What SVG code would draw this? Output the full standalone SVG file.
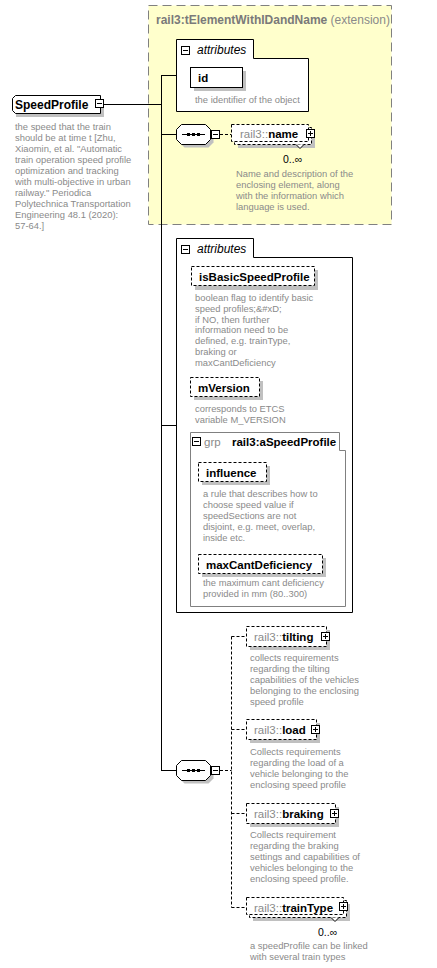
<svg xmlns="http://www.w3.org/2000/svg" xmlns:xlink="http://www.w3.org/1999/xlink" width="437" height="968" viewBox="0 0 437 968">
<style>
.desc{font-family:"Liberation Sans",Arial,sans-serif;font-size:9.4px;fill:#8a8a8a}
.nm{font-family:"Liberation Sans",Arial,sans-serif;font-size:11.5px;font-weight:bold;fill:#000}
.pre{font-weight:normal;fill:#8a8a8a}
.occ{font-family:"Liberation Sans",Arial,sans-serif;font-size:10.5px;fill:#000}
.box{fill:#fff;stroke:#000;stroke-width:1}
.dbox{fill:#fff;stroke:#000;stroke-width:1;stroke-dasharray:3 2}
.sh{fill:#c0c0c0}
.conn{stroke:#000;stroke-width:1;fill:none}
.dconn{stroke:#000;stroke-width:1;fill:none;stroke-dasharray:3 2}
.ital{font-family:"Liberation Sans",Arial,sans-serif;font-size:12px;font-style:italic;fill:#000}
</style>
<defs>
<g id="minus"><rect x="0.5" y="0.5" width="8" height="8" fill="#fff" stroke="#000"/><line x1="2" y1="4.5" x2="7" y2="4.5" stroke="#000"/></g>
<g id="plus"><rect x="0.5" y="0.5" width="8" height="8" fill="#fff" stroke="#000"/><line x1="2" y1="4.5" x2="7" y2="4.5" stroke="#000"/><line x1="4.5" y1="2" x2="4.5" y2="7" stroke="#000"/></g>
<g id="seq"><path d="M8.5,3.5 H32.5 L37.5,8.5 V18.5 L32.5,23.5 H8.5 L3.5,18.5 V8.5 Z" class="sh"/><path d="M5.5,0.5 H29.5 L34.5,5.5 V15.5 L29.5,20.5 H5.5 L0.5,15.5 V5.5 Z" class="box"/><line x1="6" y1="10.5" x2="29" y2="10.5" stroke="#000"/><rect x="11" y="9" width="3" height="3" fill="#000"/><rect x="16" y="9" width="3" height="3" fill="#000"/><rect x="21" y="9" width="3" height="3" fill="#000"/></g>
</defs>
<rect width="437" height="968" fill="#fff"/>

<g id="ext-tElementWithIDandName">
<rect x="148.5" y="5.5" width="243" height="219" fill="#ffffcc" stroke="#808080" stroke-dasharray="9 5"/>
<text x="156" y="24" font-family="Liberation Sans, Arial, sans-serif" font-size="12px"><tspan font-weight="bold" fill="#7a7a7a">rail3:tElementWithIDandName</tspan><tspan fill="#8a8a8a"> (extension)</tspan></text>
</g>

<g id="connectors">
<line x1="104" y1="104.5" x2="161.5" y2="104.5" class="conn"/>
<line x1="161.5" y1="75" x2="161.5" y2="770.5" class="conn"/>
<line x1="161" y1="75.5" x2="176" y2="75.5" class="conn"/>
<line x1="161" y1="134.5" x2="176" y2="134.5" class="conn"/>
<line x1="161" y1="425.5" x2="176" y2="425.5" class="conn"/>
<line x1="161" y1="770.5" x2="176" y2="770.5" class="conn"/>
<line x1="220" y1="134.5" x2="231" y2="134.5" class="dconn"/>
<line x1="220" y1="770.5" x2="231.5" y2="770.5" class="dconn"/>
<line x1="231.5" y1="636.5" x2="231.5" y2="907.5" class="dconn"/>
<line x1="231.5" y1="636.5" x2="246" y2="636.5" class="dconn"/>
<line x1="231.5" y1="729.5" x2="246" y2="729.5" class="dconn"/>
<line x1="231.5" y1="813.5" x2="246" y2="813.5" class="dconn"/>
<line x1="231.5" y1="907.5" x2="246" y2="907.5" class="dconn"/>
</g>

<g id="SpeedProfile">
<rect x="16" y="99" width="88" height="18" class="sh"/>
<path d="M15.5,95.5 H100.5 V113.5 H15.5 L12.5,110.5 V98.5 Z" class="box"/>
<text x="15" y="109" font-family="Liberation Sans, Arial, sans-serif" font-size="12px" font-weight="bold">SpeedProfile</text>
<use xlink:href="#minus" x="95" y="99"/>
<text class="desc"><tspan x="15" y="130">the speed that the train</tspan><tspan x="15" y="141">should be at time t [Zhu,</tspan><tspan x="15" y="152">Xiaomin, et al. "Automatic</tspan><tspan x="15" y="163">train operation speed profile</tspan><tspan x="15" y="174">optimization and tracking</tspan><tspan x="15" y="185">with multi-objective in urban</tspan><tspan x="15" y="196">railway." Periodica</tspan><tspan x="15" y="207">Polytechnica Transportation</tspan><tspan x="15" y="218">Engineering 48.1 (2020):</tspan><tspan x="15" y="229">57-64.]</tspan></text>
</g>

<g id="attributes1">
<path d="M176.5,111.5 V39.5 H253.5 V58.5 H308.5 V111.5 Z" class="box"/>
<use xlink:href="#minus" x="181" y="46"/>
<text x="197" y="54" class="ital">attributes</text>
</g>

<g id="id">
<rect x="194" y="71" width="52" height="20" class="sh"/>
<rect x="190.5" y="67.5" width="52" height="20" class="box"/>
<text x="198" y="82" class="nm">id</text>
<text x="195" y="103" class="desc">the identifier of the object</text>
</g>

<g id="sequence1">
<use xlink:href="#seq" x="176" y="124"/>
<use xlink:href="#minus" x="211" y="130"/>
</g>

<g id="name">
<rect x="238" y="131" width="77" height="17" class="sh"/>
<rect x="234.5" y="127.5" width="77" height="17" class="dbox"/>
<rect x="231.5" y="124.5" width="77" height="17" class="dbox"/>
<path d="M296,144.5 L300,148.5 L304,144.5" fill="#fff" stroke="#000"/>
<text x="240" y="138" class="nm"><tspan class="pre">rail3::</tspan>name</text>
<use xlink:href="#plus" x="306" y="129"/>
<text x="283" y="163" class="occ">0..∞</text>
<text class="desc"><tspan x="236" y="177">Name and description of the</tspan><tspan x="236" y="188">enclosing element, along</tspan><tspan x="236" y="199">with the information which</tspan><tspan x="236" y="210">language is used.</tspan></text>
</g>

<g id="attributes2">
<path d="M176.5,612.5 V238.5 H253.5 V257.5 H352.5 V612.5 Z" class="box"/>
<use xlink:href="#minus" x="181" y="245"/>
<text x="197" y="253" class="ital">attributes</text>
</g>

<g id="isBasicSpeedProfile">
<rect x="195" y="270" width="123" height="20" class="sh"/>
<rect x="191.5" y="266.5" width="123" height="19" class="dbox"/>
<text x="199" y="281" class="nm">isBasicSpeedProfile</text>
<text class="desc"><tspan x="195" y="301">boolean flag to identify basic</tspan><tspan x="195" y="312">speed profiles;&amp;#xD;</tspan><tspan x="195" y="322.5">if NO, then further</tspan><tspan x="195" y="333">information need to be</tspan><tspan x="195" y="344">defined, e.g. trainType,</tspan><tspan x="195" y="355">braking or</tspan><tspan x="195" y="366">maxCantDeficiency</tspan></text>
</g>

<g id="mVersion">
<rect x="194" y="381" width="69" height="19" class="sh"/>
<rect x="190.5" y="377.5" width="69" height="19" class="dbox"/>
<text x="198" y="392" class="nm">mVersion</text>
<text class="desc"><tspan x="195" y="412">corresponds to ETCS</tspan><tspan x="195" y="423">variable M_VERSION</tspan></text>
</g>

<g id="grp-aSpeedProfile">
<path d="M190.5,606.5 V432.5 H339.5 V450.5 H345.5 V606.5 Z" fill="#fff" stroke="#808080"/>
<use xlink:href="#minus" x="192" y="437"/>
<text x="204" y="446" font-family="Liberation Sans, Arial, sans-serif" font-size="11.5px" fill="#8a8a8a">grp</text>
<text x="232" y="446" class="nm">rail3:aSpeedProfile</text>
</g>

<g id="influence">
<rect x="202" y="466" width="68" height="19" class="sh"/>
<rect x="198.5" y="462.5" width="68" height="19" class="dbox"/>
<text x="206" y="477" class="nm">influence</text>
<text class="desc"><tspan x="203" y="497">a rule that describes how to</tspan><tspan x="203" y="508">choose speed value if</tspan><tspan x="203" y="519">speedSections are not</tspan><tspan x="203" y="530">disjoint, e.g. meet, overlap,</tspan><tspan x="203" y="541">inside etc.</tspan></text>
</g>

<g id="maxCantDeficiency">
<rect x="202" y="558" width="124" height="19" class="sh"/>
<rect x="198.5" y="554.5" width="124" height="19" class="dbox"/>
<text x="206" y="569" class="nm">maxCantDeficiency</text>
<text class="desc"><tspan x="203" y="586">the maximum cant deficiency</tspan><tspan x="203" y="597">provided in mm (80..300)</tspan></text>
</g>

<g id="sequence2">
<use xlink:href="#seq" x="176" y="760"/>
<use xlink:href="#minus" x="211" y="766"/>
</g>

<g id="tilting">
<rect x="250" y="630" width="80" height="20" class="sh"/>
<rect x="246.5" y="626.5" width="80" height="20" class="dbox"/>
<text x="254" y="641" class="nm"><tspan class="pre">rail3::</tspan>tilting</text>
<use xlink:href="#plus" x="321" y="632"/>
<text class="desc"><tspan x="250" y="661">collects requirements</tspan><tspan x="250" y="672">regarding the tilting</tspan><tspan x="250" y="683">capabilities of the vehicles</tspan><tspan x="250" y="693.5">belonging to the enclosing</tspan><tspan x="250" y="704.5">speed profile</tspan></text>
</g>

<g id="load">
<rect x="250" y="723" width="70" height="20" class="sh"/>
<rect x="246.5" y="719.5" width="70" height="20" class="dbox"/>
<text x="254" y="734" class="nm"><tspan class="pre">rail3::</tspan>load</text>
<use xlink:href="#plus" x="311" y="725"/>
<text class="desc"><tspan x="250" y="755">Collects requirements</tspan><tspan x="250" y="766">regarding the load of a</tspan><tspan x="250" y="777">vehicle belonging to the</tspan><tspan x="250" y="788">enclosing speed profile</tspan></text>
</g>

<g id="braking">
<rect x="250" y="807" width="89" height="20" class="sh"/>
<rect x="246.5" y="803.5" width="89" height="20" class="dbox"/>
<text x="254" y="818" class="nm"><tspan class="pre">rail3::</tspan>braking</text>
<use xlink:href="#plus" x="330" y="809"/>
<text class="desc"><tspan x="250" y="838">Collects requirement</tspan><tspan x="250" y="849">regarding the braking</tspan><tspan x="250" y="860">settings and capabilities of</tspan><tspan x="250" y="871">vehicles belonging to the</tspan><tspan x="250" y="882">enclosing speed profile.</tspan></text>
</g>

<g id="trainType">
<rect x="253" y="904" width="97" height="17" class="sh"/>
<rect x="249.5" y="900.5" width="97" height="17" class="dbox"/>
<rect x="246.5" y="897.5" width="97" height="17" class="dbox"/>
<path d="M331,917.5 L335,921.5 L339,917.5" fill="#fff" stroke="#000"/>
<text x="254" y="912" class="nm"><tspan class="pre">rail3::</tspan>trainType</text>
<use xlink:href="#plus" x="339" y="902"/>
<text x="318" y="936" class="occ">0..∞</text>
<text class="desc"><tspan x="250" y="949">a speedProfile can be linked</tspan><tspan x="250" y="960">with several train types</tspan></text>
</g>
</svg>
